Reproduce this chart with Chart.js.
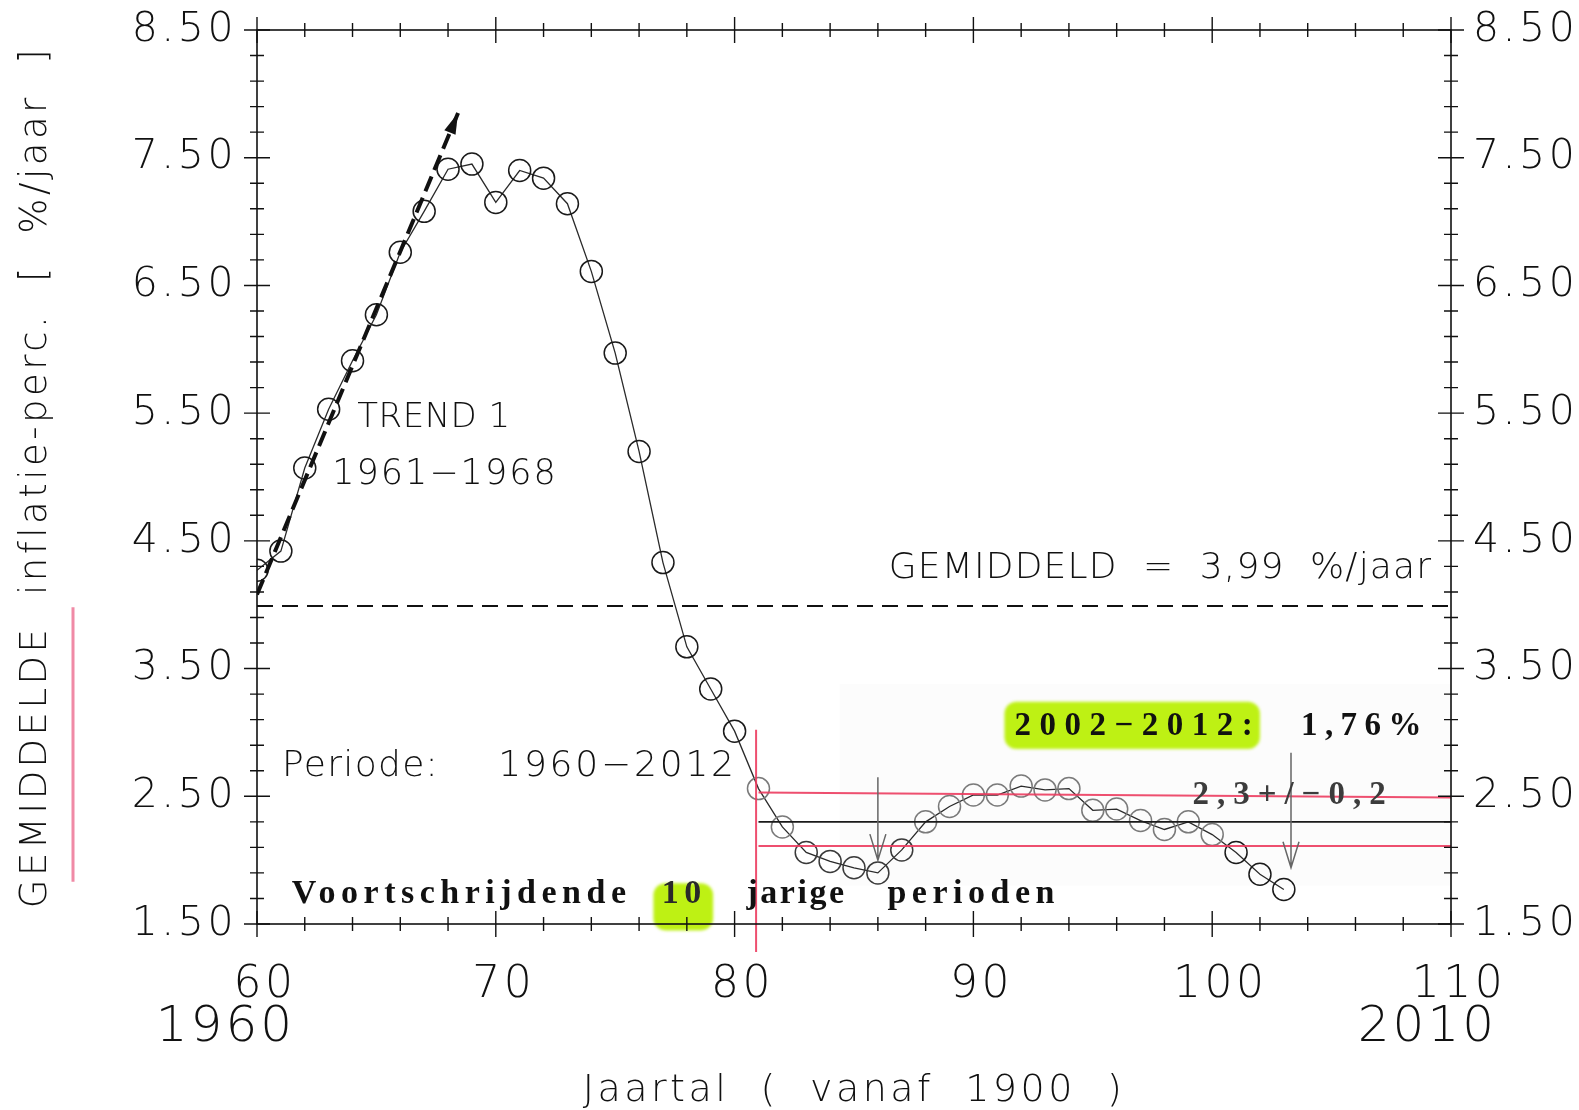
<!DOCTYPE html>
<html>
<head>
<meta charset="utf-8">
<script src="https://cdn.jsdelivr.net/npm/chart.js@4.4.1/dist/chart.umd.min.js"></script>
<style>
  html, body { margin: 0; padding: 0; background: #fff; }
</style>
</head>
<body>
<canvas id="inflChart" width="1579" height="1110"></canvas>
<script>
// moving 10-year average inflation, x = year since 1900
const years = [60, 61, 62, 63, 64, 65, 66, 67, 68, 69, 70, 71, 72, 73, 74, 75, 76, 77, 78, 79,
  80, 81, 82, 83, 84, 85, 86, 87, 88, 89, 90, 91, 92, 93, 94, 95, 96, 97, 98, 99, 100, 101, 102, 103];
const avgInflation = [4.27, 4.42, 5.07, 5.53, 5.91, 6.27, 6.76, 7.08, 7.41, 7.45, 7.15, 7.40, 7.34, 7.14, 6.61, 5.97, 5.20, 4.33, 3.67, 3.34,
  3.01, 2.56, 2.26, 2.06, 1.99, 1.94, 1.90, 2.08, 2.30, 2.42, 2.51, 2.51, 2.58, 2.55, 2.56, 2.39, 2.40, 2.31, 2.24, 2.30, 2.20, 2.06, 1.89, 1.77];

const xLabelYears = [60, 70, 80, 90, 100, 110];
const xSecondLine = ['1960', '2010'];   // under first and last label
const yLabelValues = [1.5, 2.5, 3.5, 4.5, 5.5, 6.5, 7.5, 8.5];

const overallMean = 3.99;
const trendX = [60, 68.42];
const trendY = [4.08, 7.85];
const bandX = [81, 110];
const bandUpper = [2.53, 2.49];
const bandMid = [2.30, 2.30];
const bandLower = [2.11, 2.11];
const splitX = 80.9;
const splitY = [3.02, 1.28];
const arrowX = [86, 103.3];
const arrowFrom = [2.65, 2.84];
const arrowTo = [2.0, 1.94];

const LIGHT = "'DejaVu Sans'";
const SERIF = "'Liberation Serif'";

function pts(xs, ys) { return xs.map((v, i) => ({ x: v, y: ys[i] })); }

const pointShade = years.map(yr => (yr >= 81 && yr <= 100) ? ((yr >= 83 && yr <= 87) ? '#3a3a3a' : '#7a7a7a') : '#1a1a1a');

const notes = [
  { text: 'TREND 1', x: 64.2, y: 5.46, size: 34, font: LIGHT, weight: 200, spacing: 0.5 },
  { text: '1961\u22121968', x: 63.15, y: 5.02, size: 35, font: LIGHT, weight: 200, spacing: 2 },
  { text: 'GEMIDDELD  =  3,99  %/jaar', x: 86.45, y: 4.28, size: 36, font: LIGHT, weight: 200, spacing: 1.2 },
  { text: 'Periode:', x: 61.05, y: 2.73, size: 36, font: LIGHT, weight: 200, spacing: 1.3 },
  { text: '1960\u22122012', x: 70.1, y: 2.73, size: 36, font: LIGHT, weight: 200, spacing: 2.8 },
  { text: 'Voortschrijdende', x: 61.45, y: 1.73, size: 34, font: SERIF, weight: 'bold', spacing: 5.5 },
  { text: '10', x: 76.95, y: 1.73, size: 34, font: SERIF, weight: 'bold', spacing: 5.5, color: '#2a2a2a' },
  { text: 'jarige', x: 80.5, y: 1.73, size: 34, font: SERIF, weight: 'bold', spacing: 2.5 },
  { text: 'perioden', x: 86.4, y: 1.73, size: 34, font: SERIF, weight: 'bold', spacing: 5.5 },
  { text: '2002\u22122012:', x: 91.72, y: 3.05, size: 33, font: SERIF, weight: 'bold', spacing: 8.5 },
  { text: '1,76%', x: 103.72, y: 3.05, size: 33, font: SERIF, weight: 'bold', spacing: 7.4 },
  { text: '2,3+/\u22120,2', x: 99.17, y: 2.51, size: 33, font: SERIF, weight: 'bold', spacing: 8, color: '#3c3c3c' }
];
const highlights = [
  { x0: 76.6, x1: 79.1, y0: 1.82, y1: 1.45 },
  { x0: 91.3, x1: 102.0, y0: 3.24, y1: 2.87 }
];

const paperPlugin = {
  id: 'paper',
  beforeDraw(chart) {
    // the plotter font is wide; open up every label a little
    chart.ctx.letterSpacing = '3.5px';
  },
  beforeDatasetsDraw(chart) {
    const { ctx, chartArea: a, scales: { x, y } } = chart;
    ctx.save();
    // faint pasted-in region
    const bx = x.getPixelForValue(84.4), by = y.getPixelForValue(3.38);
    ctx.fillStyle = '#fcfcfc';
    ctx.fillRect(bx, by, a.right - bx, y.getPixelForValue(1.8) - by);
    // green marker
    ctx.fillStyle = 'rgba(184,240,0,0.92)';
    ctx.filter = 'blur(1.5px)';
    highlights.forEach(h => {
      const x0 = x.getPixelForValue(h.x0), x1 = x.getPixelForValue(h.x1);
      const y0 = y.getPixelForValue(h.y0), y1 = y.getPixelForValue(h.y1);
      ctx.beginPath();
      ctx.roundRect(x0, y0, x1 - x0, y1 - y0, 12);
      ctx.fill();
    });
    ctx.restore();
  },
  afterDatasetsDraw(chart) {
    const { ctx, chartArea: a, scales: { x, y } } = chart;
    ctx.save();
    // frame
    ctx.strokeStyle = '#111';
    ctx.lineWidth = 1.6;
    ctx.strokeRect(a.left, a.top, a.right - a.left, a.bottom - a.top);
    // ticks crossing the frame
    ctx.lineWidth = 1.4;
    ctx.beginPath();
    for (let v = 60; v <= 110.001; v += 2) {
      const px = x.getPixelForValue(v);
      const len = xLabelYears.includes(Math.round(v)) ? 13 : 7;
      ctx.moveTo(px, a.bottom - len); ctx.lineTo(px, a.bottom + len);
      ctx.moveTo(px, a.top - len); ctx.lineTo(px, a.top + len);
    }
    for (let k = 0; k <= 35; k++) {
      const v = 1.5 + k * 0.2;
      const py = y.getPixelForValue(v);
      const len = (k % 5 === 0) ? 13 : 7;
      ctx.moveTo(a.left - len, py); ctx.lineTo(a.left + len, py);
      ctx.moveTo(a.right - len, py); ctx.lineTo(a.right + len, py);
    }
    ctx.stroke();

    // trend arrow head
    const tx0 = x.getPixelForValue(trendX[0]), ty0 = y.getPixelForValue(trendY[0]);
    const tx1 = x.getPixelForValue(trendX[1]), ty1 = y.getPixelForValue(trendY[1]);
    const ang = Math.atan2(ty1 - ty0, tx1 - tx0);
    ctx.fillStyle = '#111';
    ctx.beginPath();
    ctx.moveTo(tx1, ty1);
    ctx.lineTo(tx1 - 22 * Math.cos(ang - 0.28), ty1 - 22 * Math.sin(ang - 0.28));
    ctx.lineTo(tx1 - 22 * Math.cos(ang + 0.28), ty1 - 22 * Math.sin(ang + 0.28));
    ctx.closePath();
    ctx.fill();

    // down arrows
    ctx.strokeStyle = '#666';
    ctx.lineWidth = 1.5;
    arrowX.forEach((ax, i) => {
      const px = x.getPixelForValue(ax);
      const py0 = y.getPixelForValue(arrowFrom[i]), py1 = y.getPixelForValue(arrowTo[i]);
      ctx.beginPath();
      ctx.moveTo(px, py0); ctx.lineTo(px, py1);
      ctx.moveTo(px - 8, py1 - 26); ctx.lineTo(px, py1); ctx.lineTo(px + 8, py1 - 26);
      ctx.stroke();
    });

    // pink mark beside the y title
    ctx.strokeStyle = '#f08aa6';
    ctx.lineWidth = 3;
    ctx.beginPath();
    ctx.moveTo(a.left - 184, y.getPixelForValue(3.98));
    ctx.lineTo(a.left - 184, y.getPixelForValue(1.83));
    ctx.stroke();

    // notes
    ctx.textBaseline = 'middle';
    ctx.textAlign = 'left';
    notes.forEach(n => {
      ctx.font = `${n.weight} ${n.size}px ${n.font}`;
      ctx.letterSpacing = (n.spacing || 0) + 'px';
      ctx.fillStyle = n.color || '#111';
      ctx.fillText(n.text, x.getPixelForValue(n.x), y.getPixelForValue(n.y));
    });

    // second row of x labels (full years)
    ctx.letterSpacing = '3px';
    ctx.font = `200 50px ${LIGHT}`;
    ctx.textAlign = 'right';
    ctx.fillStyle = '#111';
    ctx.fillText(xSecondLine[0], x.getPixelForValue(xLabelYears[0]) + 38, a.bottom + 104);
    ctx.fillText(xSecondLine[1], x.getPixelForValue(xLabelYears[xLabelYears.length - 1]) + 46, a.bottom + 104);
    ctx.restore();
  }
};

const lineDs = (data, color, width, extra) => Object.assign({
  data, borderColor: color, borderWidth: width, pointRadius: 0, fill: false, tension: 0
}, extra || {});

const noPad = s => { s.paddingTop = 0; s.paddingBottom = 0; s.paddingLeft = 0; s.paddingRight = 0; };

new Chart(document.getElementById('inflChart').getContext('2d'), {
  type: 'line',
  plugins: [paperPlugin],
  data: {
    datasets: [
      lineDs(pts(bandX, bandUpper), 'rgba(236,60,95,0.9)', 2),
      lineDs(pts(bandX, bandLower), 'rgba(236,60,95,0.9)', 2),
      lineDs(pts(bandX, bandMid), '#1a1a1a', 1.6),
      lineDs(pts([splitX, splitX], splitY), 'rgba(236,60,95,0.9)', 2, { clip: false }),
      lineDs(pts([60, 110], [overallMean, overallMean]), '#111', 2, { borderDash: [16, 9] }),
      lineDs(pts(trendX, trendY), '#111', 4, { borderDash: [16, 7] }),
      {
        data: pts(years, avgInflation),
        borderColor: '#2a2a2a',
        borderWidth: 1.3,
        pointRadius: 11,
        pointBorderWidth: 1.5,
        pointBackgroundColor: 'rgba(0,0,0,0)',
        pointBorderColor: pointShade,
        tension: 0,
        fill: false
      }
    ]
  },
  options: {
    responsive: false,
    animation: false,
    layout: { padding: { top: 30, left: 0, right: 0, bottom: 0 } },
    plugins: { legend: { display: false }, tooltip: { enabled: false } },
    scales: {
      x: {
        type: 'linear', position: 'bottom', min: 60, max: 110,
        afterBuildTicks: s => { s.ticks = xLabelYears.map(v => ({ value: v })); },
        afterFit: s => { s.height = 186; noPad(s); },
        grid: { display: false, drawTicks: false },
        border: { display: false },
        ticks: {
          autoSkip: false, maxRotation: 0, padding: 40, labelOffset: 8,
          color: '#111', font: { family: LIGHT, size: 44, weight: 200, lineHeight: 1 },
          callback: v => String(v)
        },
        title: {
          display: true, text: 'Jaartal  (  vanaf  1900  )', color: '#111',
          font: { family: LIGHT, size: 38, weight: 200, lineHeight: 1 },
          padding: { top: 0, bottom: 0 }
        }
      },
      y: {
        position: 'left', min: 1.5, max: 8.5,
        afterBuildTicks: s => { s.ticks = yLabelValues.map(v => ({ value: v })); },
        afterFit: s => { s.width = 257; noPad(s); },
        grid: { display: false, drawTicks: false },
        border: { display: false },
        ticks: {
          padding: 20, color: '#111',
          font: { family: LIGHT, size: 41, weight: 200, lineHeight: 1 },
          callback: v => v.toFixed(2)
        },
        title: {
          display: true, text: 'GEMIDDELDE  inflatie-perc.  [  %/jaar  ]', color: '#111',
          font: { family: LIGHT, size: 37, weight: 200, lineHeight: 1 },
          padding: { top: 18, bottom: 0 }
        }
      },
      y2: {
        position: 'right', min: 1.5, max: 8.5,
        afterBuildTicks: s => { s.ticks = yLabelValues.map(v => ({ value: v })); },
        afterFit: s => { s.width = 128; noPad(s); },
        grid: { display: false, drawTicks: false },
        border: { display: false },
        ticks: {
          padding: 22, color: '#111',
          font: { family: LIGHT, size: 41, weight: 200, lineHeight: 1 },
          callback: v => v.toFixed(2)
        }
      }
    }
  }
});
</script>
</body>
</html>
